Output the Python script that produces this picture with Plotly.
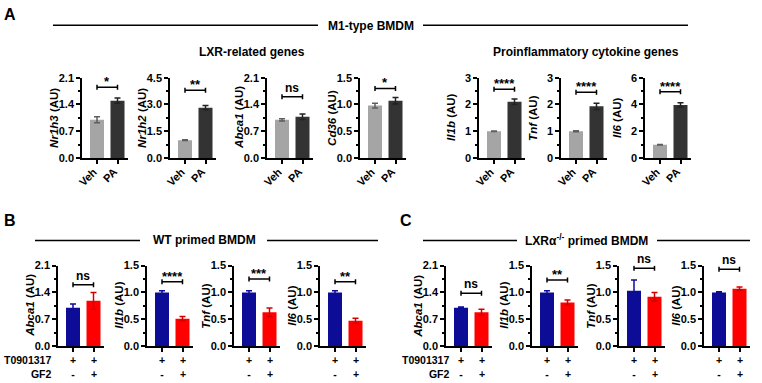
import plotly.graph_objects as go

W, H = 762, 383
FONT = "Liberation Sans"

# ---------------- data ----------------
a_genes = ["Nr1h3", "Nr1h2", "Abca1", "Cd36", "Il1b", "Tnf", "Il6"]
a_cats = ["Veh", "PA"]
a_veh = [1.0, 1.0, 1.0, 0.98, 1.0, 1.0, 1.0]
a_veh_err = [0.08, 0.02, 0.03, 0.045, 0.01, 0.02, 0.02]
a_pa = [1.5, 2.82, 1.08, 1.07, 2.1, 1.93, 3.97]
a_pa_err = [0.07, 0.12, 0.07, 0.06, 0.1, 0.12, 0.15]
a_sig = ["*", "**", "ns", "*", "****", "****", "****"]
a_sig_y = [1.85, 3.8, 1.6, 1.30, 2.57, 2.46, 4.95]
a_ymax = [2.1, 4.5, 2.1, 1.5, 3, 3, 6]
a_dtick = [0.7, 1.5, 0.7, 0.5, 1, 1, 2]
a_fmt = [".1f", ".1f", ".1f", ".1f", "d", "d", "d"]

bc_genes = ["Abca1", "Il1b", "Tnf", "Il6"]
bc_rows = ["T0901317", "GF2"]
bc_t09 = ["+", "+"]
bc_gf2 = ["-", "+"]
bc_ymax = [2.1, 1.5, 1.5, 1.5]
bc_dtick = [0.7, 0.5, 0.5, 0.5]

b_ctrl = [1.0, 1.0, 1.0, 1.0]
b_ctrl_err = [0.1, 0.03, 0.03, 0.03]
b_gf2 = [1.18, 0.51, 0.63, 0.47]
b_gf2_err = [0.22, 0.04, 0.08, 0.05]
b_sig = ["ns", "****", "***", "**"]
b_sig_y = [1.6, 1.2, 1.25, 1.2]

c_ctrl = [1.0, 1.0, 1.03, 1.0]
c_ctrl_err = [0.02, 0.03, 0.2, 0.01]
c_gf2 = [0.88, 0.81, 0.92, 1.07]
c_gf2_err = [0.08, 0.05, 0.08, 0.03]
c_sig = ["ns", "**", "ns", "ns"]
c_sig_y = [1.375, 1.23, 1.45, 1.43]

# ---------------- style / layout ----------------
GRAY, DARK = "#a5a5a5", "#333333"
GRAY_E, DARK_E = "#5e5e5e", "#222222"
BLUE, RED = "#0c0c96", "#ff0000"
BLUE_E, RED_E = "#0c0c96", "#d40000"

A_X0 = [82, 170, 267, 360, 479, 561, 645]
B_X0 = [58, 147, 234, 320]
C_X0 = [446, 532, 619, 704]
A_TOP, A_BOT = 74, 157
BC_TOP, BC_BOT = 268, 351

UNIT = 20.5      # px per category
OFF0 = 15.0      # px from y axis to first bar centre
AXW = 46.0       # x axis length px
BARW = 14.0 / UNIT

fig = go.Figure()
layout = {}
annotations = []
shapes = []


def px(p):
    return p / W


def py(p):
    return 1 - p / H


def bold(size):
    return dict(family=FONT, size=size, color="black", weight="bold")


def txt(x, y, s, size, xanchor="center", yanchor="middle", angle=0,
        align="center"):
    annotations.append(dict(xref="paper", yref="paper", x=px(x), y=py(y),
                            text=s, showarrow=False, xanchor=xanchor,
                            yanchor=yanchor, textangle=angle, align=align,
                            font=bold(size)))


def add_panel(idx, x0, ytop, ybot, vals, errs, colors, ecolors, ymax, dtick,
              fmt, gene, sig, sig_y):
    sfx = "" if idx == 1 else str(idx)
    xa, ya = "x" + sfx, "y" + sfx
    for k in range(2):
        fig.add_trace(go.Bar(
            x=[k], y=[vals[k]], xaxis=xa, yaxis=ya, width=BARW,
            marker=dict(color=colors[k], line=dict(width=0)),
            error_y=dict(type="data", array=[errs[k]], color=ecolors[k],
                         thickness=1.5, width=3),
            showlegend=False, hoverinfo="skip"))
    n = int(round(ymax / dtick))
    tv = [round(i * dtick, 4) for i in range(n + 1)]
    layout["xaxis" + sfx] = dict(
        domain=[px(x0), px(x0 + AXW)], anchor=ya,
        range=[-OFF0 / UNIT, (AXW - OFF0) / UNIT],
        tickvals=[0, 1], showticklabels=False,
        ticks="outside", ticklen=4, tickwidth=1.5, tickcolor="black",
        showline=True, linewidth=1.5, linecolor="black",
        showgrid=False, zeroline=False, fixedrange=True)
    layout["yaxis" + sfx] = dict(
        domain=[py(ybot), py(ytop)], anchor=xa, range=[0, ymax],
        tickvals=tv, tickformat=fmt,
        ticks="outside", ticklen=4, tickwidth=1.5, tickcolor="black",
        minor=dict(tickvals=[round((i + 0.5) * dtick, 4) for i in range(n)],
                   ticks="outside", ticklen=2.5, tickwidth=1.5,
                   tickcolor="black", showgrid=False),
        showline=True, linewidth=1.5, linecolor="black",
        showgrid=False, zeroline=False, tickfont=bold(11), fixedrange=True)
    # y axis title
    txt(x0 - 28, (ytop + ybot) / 2, "<i>%s</i> (AU)" % gene, 11.5,
        angle=-90)
    # significance bracket
    shapes.append(dict(type="line", xref=xa, yref=ya, x0=0, x1=1,
                       y0=sig_y, y1=sig_y, line=dict(color="black", width=1.5)))
    for xx in (0, 1):
        shapes.append(dict(type="line", xref=xa, yref=ya, x0=xx, x1=xx,
                           ysizemode="pixel", yanchor=sig_y, y0=-2.5, y1=2.5,
                           line=dict(color="black", width=1.5)))
    annotations.append(dict(
        xref=xa, yref=ya, x=0.5, y=sig_y, text=sig, showarrow=False,
        xanchor="center", yanchor="bottom",
        yshift=(-4 if "*" in sig else 0), font=bold(13 if "*" in sig else 12)))
    return x0 + OFF0, x0 + OFF0 + UNIT


idx = 1
for i in range(7):
    c0, c1 = add_panel(idx, A_X0[i], A_TOP, A_BOT, [a_veh[i], a_pa[i]],
                       [a_veh_err[i], a_pa_err[i]], [GRAY, DARK],
                       [GRAY_E, DARK_E], a_ymax[i], a_dtick[i], a_fmt[i],
                       a_genes[i], a_sig[i], a_sig_y[i])
    for cx, lab in zip((c0, c1), a_cats):
        txt(cx + 5, A_BOT + 5, lab, 11, "right", "top", -45)
    idx += 1

for group, x0s, ctrl, ctrl_e, gf, gf_e, sig, sig_y in (
        ("B", B_X0, b_ctrl, b_ctrl_err, b_gf2, b_gf2_err, b_sig, b_sig_y),
        ("C", C_X0, c_ctrl, c_ctrl_err, c_gf2, c_gf2_err, c_sig, c_sig_y)):
    for i in range(4):
        c0, c1 = add_panel(idx, x0s[i], BC_TOP, BC_BOT, [ctrl[i], gf[i]],
                           [ctrl_e[i], gf_e[i]], [BLUE, RED],
                           [BLUE_E, RED_E], bc_ymax[i], bc_dtick[i], ".1f",
                           bc_genes[i], sig[i], sig_y[i])
        for cx, s1, s2 in zip((c0, c1), bc_t09, bc_gf2):
            txt(cx, 372.5, s1 + "<br>" + s2, 10.5)
        idx += 1


def hline(x0, x1, y):
    shapes.append(dict(type="line", xref="paper", yref="paper",
                       x0=px(x0), x1=px(x1), y0=py(y), y1=py(y),
                       line=dict(color="black", width=1.5)))


# panel letters
txt(2, 9, "A", 16, "left")
txt(2, 221, "B", 16, "left")
txt(398, 221, "C", 16, "left")

# headers
hline(53, 318, 20)
txt(371, 21, "M1-type BMDM", 12)
hline(423, 688, 20)
txt(252, 48, "LXR-related genes", 12)
txt(586, 48, "Proinflammatory cytokine genes", 12)

hline(35, 140, 242)
txt(204, 242, "WT primed BMDM", 12)
hline(267, 378, 242)

hline(423, 517, 242)
txt(586, 242, "LXR\u03b1<sup>-/-</sup> primed BMDM", 12)
hline(657, 750, 242)

# treatment labels
row_txt = "<br>".join(bc_rows)
txt(53, 372.5, row_txt, 10.5, "right", align="right")
txt(451, 372.5, row_txt, 10.5, "right", align="right")

fig.update_layout(
    width=W, height=H, margin=dict(l=0, r=0, t=0, b=0),
    paper_bgcolor="white", plot_bgcolor="white",
    barmode="overlay", showlegend=False,
    font=dict(family=FONT, color="black"),
    annotations=annotations, shapes=shapes, **layout)

fig.write_html("out.html", config={"displayModeBar": False},
               post_script="document.body.style.margin='0px';")
